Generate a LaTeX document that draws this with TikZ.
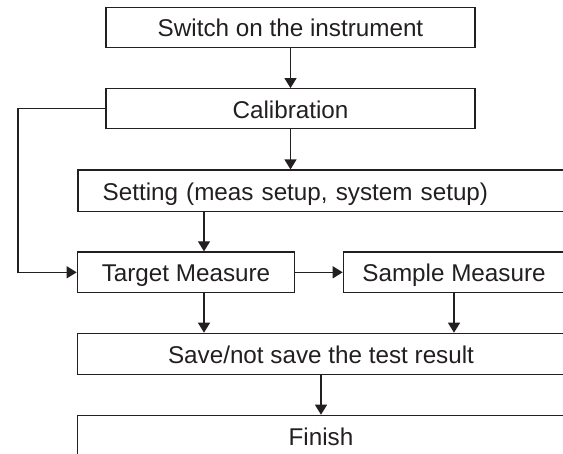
\documentclass[tikz,border=0pt]{standalone}
\usepackage{fontspec}
\setmainfont{Liberation Sans}
\usetikzlibrary{arrows.meta}
\definecolor{ink}{RGB}{35,31,32}
\tikzset{
  stepbox/.style={draw=ink, text=ink, line width=0.7pt, inner sep=0pt,
    font=\fontsize{13.8}{16.5}\selectfont, text height=10.8pt, text depth=0pt},
}
\begin{document}
\begin{tikzpicture}[>={Triangle[length=2mm,width=2.4mm]}, line width=0.7pt, color=ink]
    \useasboundingbox (0,0) rectangle (11.26,-9.06);
    \clip (0,0) rectangle (11.26,-9.06);
    \node[stepbox, minimum width=7.38cm, minimum height=0.81cm] (switch) at (5.81,-0.55) {Switch on the instrument};
    \node[stepbox, minimum width=7.38cm, minimum height=0.80cm] (calib) at (5.81,-2.174) {Calibration};
    \node[stepbox, anchor=west, text width=9.466cm, inner xsep=0.494cm, align=left, minimum height=0.826cm] (setting) at (1.546,-3.813) {Setting (meas setup, system setup)};
    \node[stepbox, minimum width=4.348cm, minimum height=0.814cm] (target) at (3.72,-5.446) {Target Measure};
    \node[stepbox, minimum width=4.428cm, minimum height=0.814cm] (sample) at (9.08,-5.446) {Sample Measure};
    \node[stepbox, minimum width=9.748cm, minimum height=0.828cm] (save) at (6.42,-7.08) {Save/not save the test result};
    \node[stepbox, minimum width=9.748cm, minimum height=0.82cm] (finish) at (6.42,-8.716) {Finish};
    \draw[->] (switch) -- (calib);
    \draw[->] (calib.south) -- (calib.south |- setting.north);
    \draw[->] (calib.west) -- ++(-1.746,0) |- (target.west);
    \draw[->] ([xshift=0.36cm]target.north |- setting.south) -- ([xshift=0.36cm]target.north);
    \draw[->] (target) -- (sample);
    \draw[->] ([xshift=0.36cm]target.south) -- ([xshift=0.36cm]target.south |- save.north);
    \draw[->] (sample.south) -- (sample.south |- save.north);
    \draw[->] (save) -- (finish);
  \end{tikzpicture}
\end{document}
